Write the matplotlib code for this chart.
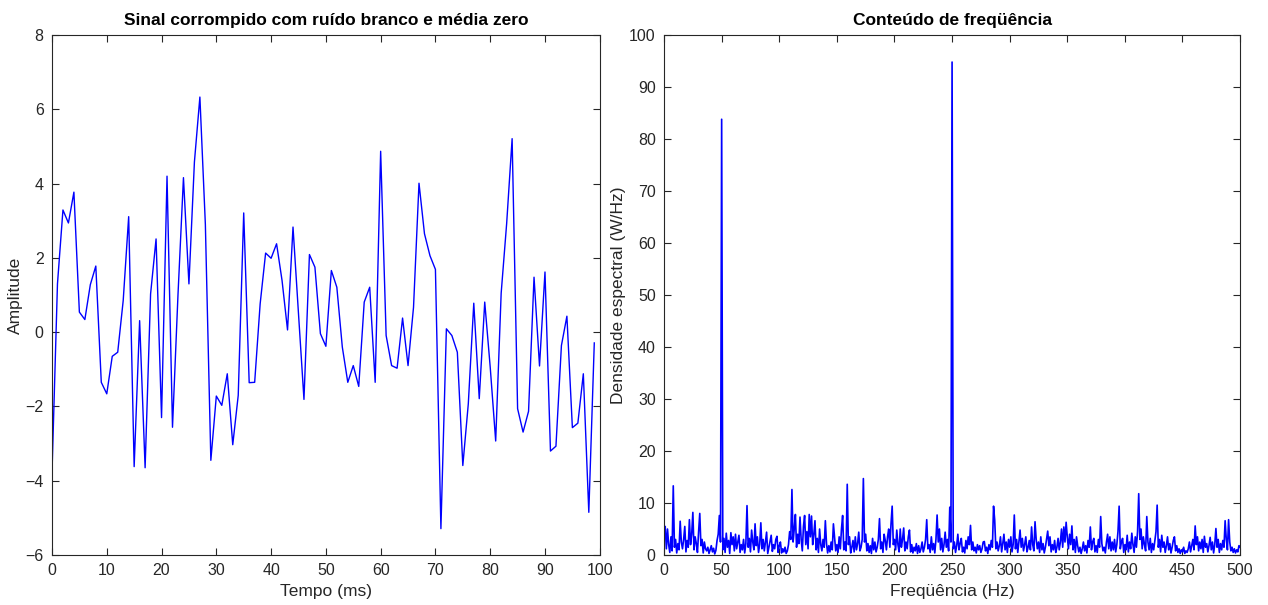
import matplotlib
matplotlib.use('Agg')
import matplotlib.pyplot as plt
import numpy as np

# sinal no tempo, uma amostra por ms
tempo_ms = list(range(100))
amplitude = [
    -3.8, 1.30, 3.29, 2.94, 3.77, 0.54, 0.34, 1.28, 1.78, -1.35,
    -1.66, -0.65, -0.54, 0.85, 3.11, -3.62, 0.31, -3.65, 1.03, 2.51,
    -2.30, 4.20, -2.56, 1.00, 4.16, 1.30, 4.58, 6.33, 2.90, -3.45,
    -1.72, -1.97, -1.12, -3.03, -1.70, 3.21, -1.36, -1.35, 0.76, 2.13,
    1.99, 2.38, 1.39, 0.06, 2.83, 0.50, -1.81, 2.09, 1.75, -0.04,
    -0.38, 1.66, 1.21, -0.40, -1.35, -0.90, -1.46, 0.81, 1.21, -1.35,
    4.87, -0.09, -0.90, -0.97, 0.38, -0.90, 0.67, 4.01, 2.65, 2.06,
    1.69, -5.29, 0.09, -0.09, -0.54, -3.59, -1.93, 0.78, -1.79, 0.81,
    -0.94, -2.93, 1.05, 2.92, 5.21, -2.06, -2.69, -2.13, 1.48, -0.91,
    1.62, -3.20, -3.07, -0.36, 0.43, -2.57, -2.45, -1.12, -4.85, -0.29,
]

# densidade espectral, 1 Hz por ponto (0 a 500 Hz)
frequencia_hz = list(range(501))
densidade = [
    4.5, 5.5, 1.2, 5.0, 2.0, 0.5, 3.5, 0.8, 13.3, 1.5, 3.0, 0.4, 2.2, 1.0, 6.5, 2.5, 1.2, 3.0, 5.5, 0.6, 2.8, 1.5, 6.8, 2.0, 4.0,
    8.2, 1.0, 3.5, 2.2, 0.5, 4.5, 8.0, 1.8, 3.0, 0.4, 2.5, 1.2, 0.8, 1.5, 0.3, 1.0, 1.8, 0.6, 1.3, 0.2, 0.9, 2.8, 4.0, 7.6, 2.5,
    83.8, 1.0, 3.2, 0.5, 4.2, 1.5, 2.8, 0.3, 4.3, 2.0, 3.5, 0.8, 4.0, 1.2, 2.5, 3.8, 0.5, 2.0, 1.0, 3.0, 0.4, 2.2, 9.5, 1.5, 3.2,
    0.6, 4.8, 2.5, 1.0, 6.0, 1.8, 3.5, 0.5, 2.0, 6.2, 1.2, 3.0, 0.8, 2.5, 4.4, 0.3, 1.5, 2.8, 3.8, 0.7, 2.0, 1.2, 3.0, 3.6, 0.5,
    1.8, 2.5, 0.4, 1.2, 0.6, 1.5, 0.3, 0.8, 2.0, 4.5, 3.0, 12.6, 2.5, 5.0, 7.8, 1.5, 4.0, 2.2, 7.3, 3.0, 0.8, 5.5, 7.6, 2.0, 4.5,
    1.2, 7.8, 3.5, 7.5, 2.0, 4.0, 6.6, 1.0, 3.2, 0.5, 5.0, 2.0, 0.8, 3.0, 1.5, 6.6, 2.2, 0.4, 1.8, 0.6, 2.5, 1.0, 6.0, 3.5, 0.8,
    2.0, 0.5, 3.5, 1.2, 5.0, 7.6, 1.0, 2.5, 0.8, 13.6, 2.0, 3.5, 0.4, 1.5, 2.8, 0.6, 3.5, 1.0, 2.2, 4.4, 0.8, 1.5, 3.0, 14.7, 2.5,
    4.0, 0.8, 2.2, 0.5, 1.8, 0.3, 3.2, 1.0, 2.5, 0.6, 1.5, 3.0, 7.0, 1.2, 2.5, 0.5, 4.0, 2.8, 1.0, 3.5, 5.0, 1.5, 6.0, 9.4, 2.0,
    3.0, 1.0, 4.8, 2.0, 0.6, 5.0, 1.5, 3.0, 5.2, 0.8, 2.5, 1.2, 3.5, 4.8, 0.6, 2.0, 0.4, 1.5, 0.8, 2.2, 0.3, 1.8, 0.5, 1.2, 2.5,
    0.6, 1.5, 3.0, 6.8, 1.2, 2.0, 0.5, 3.5, 1.0, 2.2, 0.4, 3.0, 7.7, 2.5, 5.0, 1.0, 3.2, 0.6, 2.0, 4.4, 1.5, 3.0, 0.8, 9.2, 2.5,
    94.8, 1.2, 2.5, 0.5, 1.8, 4.0, 1.0, 2.2, 3.2, 0.6, 1.5, 0.4, 2.8, 1.2, 3.5, 2.0, 5.7, 1.0, 2.5, 0.8, 1.5, 0.4, 2.0, 1.0, 1.8,
    0.5, 1.2, 2.5, 2.6, 0.8, 1.5, 0.3, 2.0, 1.0, 2.8, 1.5, 9.4, 6.7, 1.2, 2.5, 0.8, 1.8, 3.5, 0.6, 2.2, 4.0, 1.0, 2.5, 0.5, 3.0,
    1.5, 3.5, 0.6, 2.0, 7.7, 1.2, 3.0, 0.5, 2.5, 4.8, 1.5, 3.2, 0.8, 2.0, 3.5, 0.6, 1.5, 2.8, 1.0, 5.4, 2.0, 0.8, 6.4, 3.0, 1.2,
    2.5, 0.5, 3.5, 1.0, 2.2, 0.4, 1.5, 3.0, 4.6, 1.8, 3.5, 0.6, 2.0, 1.0, 2.8, 0.5, 1.5, 3.2, 1.0, 2.5, 5.0, 1.5, 5.4, 2.5, 6.3,
    3.5, 1.2, 4.0, 2.0, 5.6, 1.0, 3.0, 0.5, 3.5, 1.8, 0.6, 1.5, 0.3, 1.2, 2.5, 0.8, 1.8, 0.4, 2.8, 1.5, 5.4, 1.0, 2.5, 3.2, 0.6,
    1.8, 0.5, 3.0, 1.5, 7.4, 2.2, 0.8, 1.5, 0.4, 2.5, 4.0, 1.2, 3.5, 0.8, 2.5, 1.0, 3.0, 0.6, 2.0, 4.5, 9.4, 1.2, 2.5, 3.2, 0.5,
    2.0, 1.0, 3.8, 0.6, 2.5, 1.2, 4.2, 2.0, 0.5, 3.5, 1.5, 4.5, 11.8, 3.0, 5.0, 1.2, 3.5, 2.0, 0.8, 7.4, 2.5, 1.0, 3.2, 0.5, 2.2,
    1.0, 2.8, 4.5, 9.6, 1.5, 3.0, 0.6, 3.8, 1.5, 2.5, 0.5, 1.8, 3.5, 1.0, 2.2, 0.4, 1.5, 2.8, 3.5, 0.8, 1.8, 0.5, 1.2, 0.3, 1.0,
    0.6, 1.5, 0.3, 0.8, 0.5, 1.2, 2.5, 0.6, 1.8, 3.0, 1.0, 5.6, 2.0, 3.5, 0.8, 2.5, 1.2, 3.0, 0.5, 3.6, 1.5, 2.2, 0.6, 1.8, 3.4,
    1.0, 2.5, 0.4, 2.0, 5.1, 1.5, 3.0, 0.5, 2.2, 1.0, 2.8, 1.5, 6.6, 3.0, 1.0, 6.8, 2.5, 0.8, 1.5, 0.5, 1.2, 0.4, 1.0, 0.6, 1.8,
    1.5,
]

plt.rcParams['font.family'] = ['Liberation Sans', 'DejaVu Sans']
cor_eixo = '#262626'

fig = plt.figure(figsize=(12.68, 6.05), dpi=100)
ax1 = fig.add_axes([0.041, 0.0826, 0.432, 0.8595])
ax2 = fig.add_axes([0.5237, 0.0826, 0.4543, 0.8595])

ax1.plot(tempo_ms, amplitude, color='#0000ff', linewidth=1.0)
ax1.set_xlim(0, 100)
ax1.set_ylim(-6, 8)
ax1.set_xticks(np.arange(0, 101, 10))
ax1.set_yticks(np.arange(-6, 9, 2))
ax1.set_title('Sinal corrompido com ruído branco e média zero', fontsize=12.5, fontweight='bold', pad=7)
ax1.set_xlabel('Tempo (ms)', fontsize=12.5)
ax1.set_ylabel('Amplitude', fontsize=12.5, labelpad=2)

ax2.plot(frequencia_hz, densidade, color='#0000ff', linewidth=1.2)
ax2.set_xlim(0, 500)
ax2.set_ylim(0, 100)
ax2.set_xticks(np.arange(0, 501, 50))
ax2.set_yticks(np.arange(0, 101, 10))
ax2.set_title('Conteúdo de freqüência', fontsize=12.5, fontweight='bold', pad=7)
ax2.set_xlabel('Freqüência (Hz)', fontsize=12.5)
ax2.set_ylabel('Densidade espectral (W/Hz)', fontsize=12.5, labelpad=2)

for ax in (ax1, ax2):
    ax.tick_params(direction='in', top=True, right=True, length=5, width=0.8,
                   labelsize=11.5, colors=cor_eixo, pad=6)
    for s in ax.spines.values():
        s.set_color(cor_eixo)
        s.set_linewidth(0.8)
    ax.xaxis.label.set_color(cor_eixo)
    ax.yaxis.label.set_color(cor_eixo)

fig.savefig('out.png', dpi=100)
